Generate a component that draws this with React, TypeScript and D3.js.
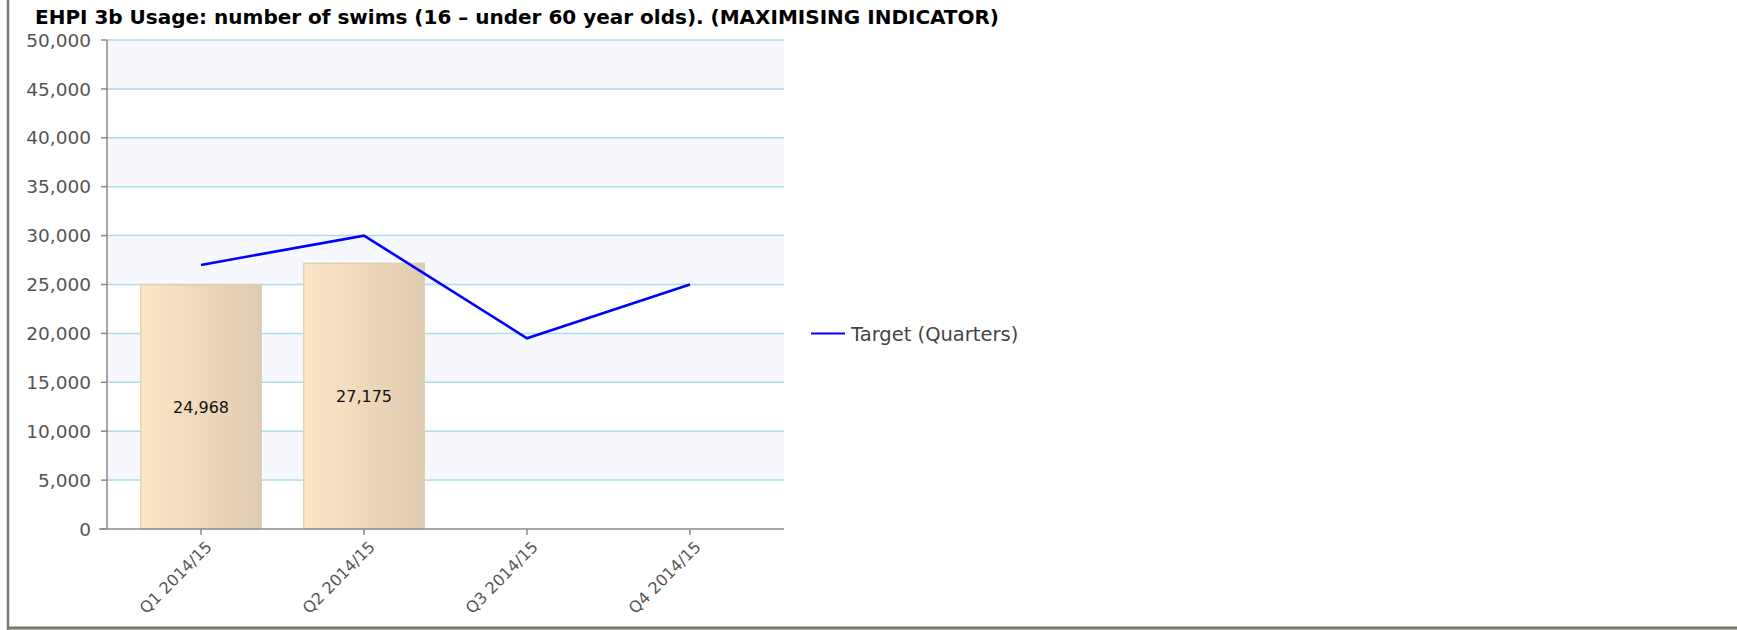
import * as d3 from "d3";

const quarters = ["Q1 2014/15", "Q2 2014/15", "Q3 2014/15", "Q4 2014/15"];
const actuals: (number | null)[] = [24968, 27175, null, null];
const targets = [27000, 30000, 19500, 25000];
const yTicks = [0, 5000, 10000, 15000, 20000, 25000, 30000, 35000, 40000, 45000, 50000];

const W = 1737;
const H = 630;
const plot = { left: 107, right: 784, top: 40, bottom: 529 };
const font = "'DejaVu Sans', Verdana, sans-serif";

export default function App() {
  const x = d3
    .scaleBand<string>()
    .domain(quarters)
    .range([plot.left, plot.right])
    .paddingInner(0.26)
    .paddingOuter(0.207);
  const y = d3.scaleLinear().domain([0, 50000]).range([plot.bottom, plot.top]);
  const cx = (q: string) => (x(q) || 0) + x.bandwidth() / 2;
  const fmt = d3.format(",");

  const line = d3
    .line<number>()
    .x((_, i) => cx(quarters[i]))
    .y((d) => y(d));

  // alternating background stripes
  const stripes = yTicks.slice(0, -1).map((v, i) => ({ lo: v, hi: yTicks[i + 1], shade: i % 2 === 1 }));

  return (
    <div style={{ position: "absolute", left: 0, top: 0 }}>
      <svg width={W} height={H} style={{ display: "block", background: "#fff" }}>
        <defs>
          <linearGradient id="barGrad" x1="0" x2="1" y1="0" y2="0">
            <stop offset="0%" stopColor="#fee6c7" />
            <stop offset="100%" stopColor="#dfcbb1" />
          </linearGradient>
        </defs>

        {/* frame */}
        <line x1={8} x2={8} y1={0} y2={630} stroke="#76766b" strokeWidth={2.5} />
        <line x1={7} x2={W} y1={628} y2={628} stroke="#76766b" strokeWidth={3} />

        <text
          x={35}
          y={24}
          fontFamily="'DejaVu Sans Condensed', 'DejaVu Sans', sans-serif"
          fontWeight="bold"
          fontSize={19}
          fill="#000"
          textLength={964}
          lengthAdjust="spacingAndGlyphs"
        >
          EHPI 3b Usage: number of swims (16 – under 60 year olds). (MAXIMISING INDICATOR)
        </text>

        {stripes.map((s) => (
          <rect
            key={s.lo}
            x={plot.left}
            y={y(s.hi)}
            width={plot.right - plot.left}
            height={y(s.lo) - y(s.hi)}
            fill={s.shade ? "#f7f8fe" : "#ffffff"}
          />
        ))}

        {yTicks.slice(1).map((t) => (
          <line key={t} x1={plot.left} x2={plot.right} y1={y(t)} y2={y(t)} stroke="#aadde6" strokeWidth={1.5} />
        ))}

        {quarters.map((q, i) => {
          const v = actuals[i];
          if (v == null) return null;
          return (
            <g key={q}>
              <rect
                x={x(q)}
                y={y(v)}
                width={x.bandwidth()}
                height={y(0) - y(v)}
                fill="url(#barGrad)"
                stroke="#e2cdaf"
                strokeWidth={1.2}
              />
              <text
                x={cx(q)}
                y={(y(v) + y(0)) / 2}
                dy="0.35em"
                textAnchor="middle"
                fontFamily={font}
                fontSize={16}
                fill="#111"
              >
                {fmt(v)}
              </text>
            </g>
          );
        })}

        <path d={line(targets) || ""} fill="none" stroke="#0000ff" strokeWidth={2.6} />

        {/* y axis */}
        <line x1={plot.left} x2={plot.left} y1={plot.top} y2={plot.bottom} stroke="#8a8a8a" strokeWidth={1.5} />
        {yTicks.map((t) => (
          <g key={t}>
            <line x1={plot.left - 6} x2={plot.left} y1={y(t)} y2={y(t)} stroke="#8a8a8a" strokeWidth={1.5} />
            <text
              x={plot.left - 16}
              y={y(t)}
              dy="0.36em"
              textAnchor="end"
              fontFamily={font}
              fontSize={18.5}
              fill="#555"
            >
              {fmt(t)}
            </text>
          </g>
        ))}

        {/* x axis */}
        <line x1={plot.left - 8} x2={plot.right} y1={plot.bottom} y2={plot.bottom} stroke="#8a8a8a" strokeWidth={1.5} />
        {quarters.map((q) => (
          <g key={q}>
            <line x1={cx(q)} x2={cx(q)} y1={plot.bottom} y2={plot.bottom + 6} stroke="#8a8a8a" strokeWidth={1.5} />
            <text
              transform={`translate(${cx(q) + 8},${plot.bottom + 15}) rotate(-45)`}
              textAnchor="end"
              dy="0.35em"
              fontFamily={font}
              fontSize={16}
              fill="#555"
            >
              {q}
            </text>
          </g>
        ))}

        {/* legend */}
        <line x1={811} x2={845} y1={333.5} y2={333.5} stroke="#0000ff" strokeWidth={2} />
        <text x={851} y={334} dy="0.36em" fontFamily={font} fontSize={19.5} fill="#444">
          Target (Quarters)
        </text>
      </svg>
    </div>
  );
}
